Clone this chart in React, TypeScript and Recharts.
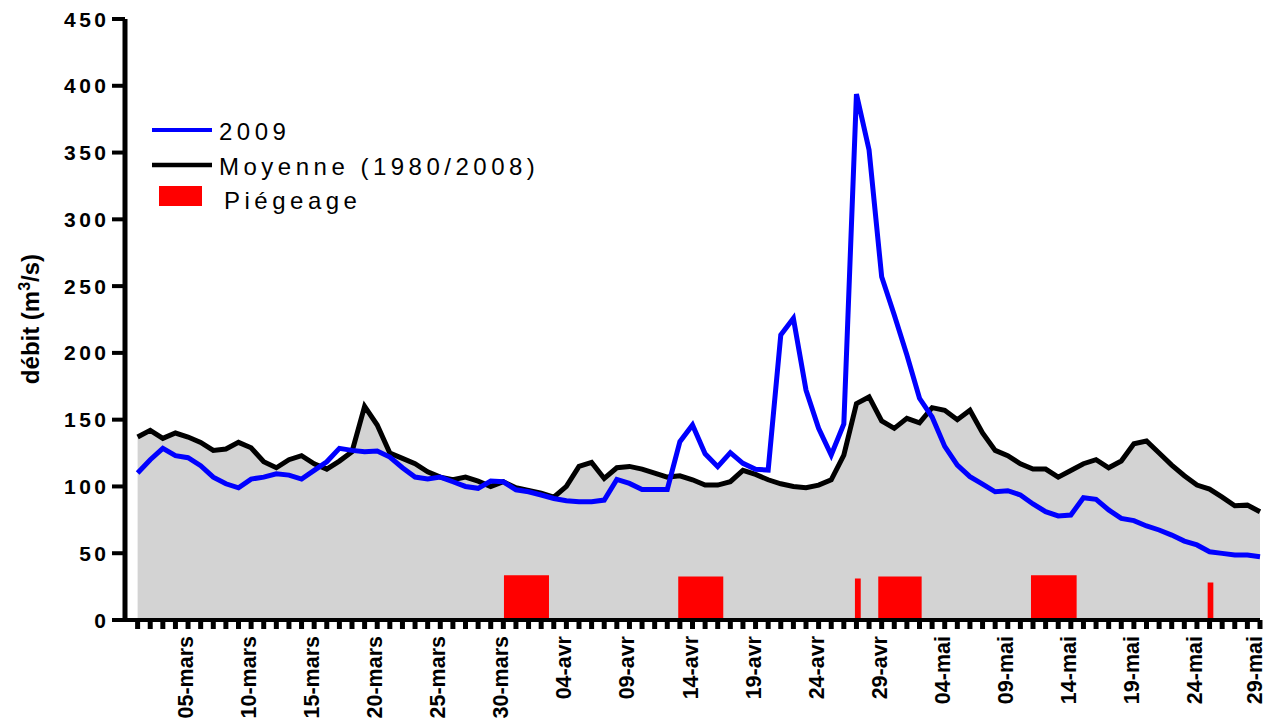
import React from 'react';
import { ComposedChart, Area, Line, XAxis, YAxis } from 'recharts';

// Daily discharge, 01-mars (index 0) to 29-mai (index 89)
const MOYENNE = [
  137, 142, 136, 140, 137, 133, 127, 128, 133, 129,
  118.5, 114, 120, 123, 117, 113, 119, 126, 160, 146,
  125, 121, 117, 111, 107, 105, 107, 104, 100, 103.5,
  99, 97, 95, 92, 100, 115, 118, 106, 114, 115,
  113, 110, 107, 108, 105, 101, 101, 103.6, 112, 109,
  105, 102, 100, 99, 101, 105, 123.5, 162, 167, 149,
  143.5, 151, 147.7, 159, 157, 150, 157, 140, 127, 123,
  117, 113, 113, 107, 112, 117, 120, 114, 119, 132,
  134, 125, 116, 108, 101, 98, 92, 85.5, 86, 81,
];

const Y2009 = [
  110, 120, 128.5, 123, 121.5, 115.5, 107, 102, 99, 105.5,
  107, 109.5, 108.5, 105.5, 112, 118.5, 128.5, 127, 126, 126.5,
  122, 114, 107, 105.6, 107, 103.5, 100, 98.6, 104, 103.5,
  97.5, 96, 93.6, 91, 89.3, 88.6, 88.6, 89.8, 105.3, 102.3,
  97.8, 97.8, 97.8, 133.5, 146, 124.5, 114.8, 125.3, 117.3, 112.8,
  112.3, 213.4, 225.9, 172.2, 143.5, 123.5, 146.8, 393.8, 352, 257,
  228.4, 198.4, 166, 152, 130, 116, 107.3, 101.8, 96, 96.8,
  93.6, 86.9, 81.1, 77.9, 78.6, 91.6, 90.4, 82.4, 76.1, 74.4,
  70.4, 67.4, 63.6, 59.1, 56.2, 51.1, 49.9, 48.7, 48.7, 47.4,
];

// Trapping periods (in day index units) and bar height
const TRAP_START = [29.05, 42.87, 56.88, 58.73, 70.84, 84.85];
const TRAP_END = [32.62, 46.44, 57.34, 62.17, 74.46, 85.3];
const TRAP_HEIGHT = [33.5, 32.5, 31, 32.5, 33.5, 28];

const TICK_DAYS = [4, 9, 14, 19, 24, 29, 34, 39, 44, 49, 54, 59, 64, 69, 74, 79, 84, 89];
const TICK_LABELS = [
  '05-mars', '10-mars', '15-mars', '20-mars', '25-mars', '30-mars',
  '04-avr', '09-avr', '14-avr', '19-avr', '24-avr', '29-avr',
  '04-mai', '09-mai', '14-mai', '19-mai', '24-mai', '29-mai',
];
const Y_TICKS = [0, 50, 100, 150, 200, 250, 300, 350, 400, 450];

const FONT = '"Liberation Sans", Arial, Helvetica, sans-serif';

type Row = { day: number; moy?: number; y2009?: number; trap?: number };

function buildData(): Row[] {
  const rows: Row[] = [];
  MOYENNE.forEach((m, i) => {
    const row: Row = { day: i, moy: m, y2009: Y2009[i] };
    TRAP_START.forEach((s, k) => {
      if (i >= s && i <= TRAP_END[k]) row.trap = TRAP_HEIGHT[k];
    });
    rows.push(row);
  });
  TRAP_START.forEach((s, k) => {
    rows.push({ day: s, trap: TRAP_HEIGHT[k] });
    rows.push({ day: TRAP_END[k], trap: TRAP_HEIGHT[k] });
  });
  rows.sort((a, b) => a.day - b.day);
  return rows;
}

const DATA = buildData();
const ALL_DAYS = MOYENNE.map((_, i) => i);

const XTick = (props: any) => {
  const { x, payload } = props;
  const idx = TICK_DAYS.indexOf(payload.value);
  if (idx < 0) return <g />;
  const tx = Math.min(x + 5, 1262);
  const ty = 636;
  return (
    <text
      x={tx}
      y={ty}
      transform={`rotate(-90, ${tx}, ${ty})`}
      textAnchor="end"
      fontFamily={FONT}
      fontWeight="bold"
      fontSize={21.5}
      fill="#000"
    >
      {TICK_LABELS[idx]}
    </text>
  );
};

const YTick = (props: any) => {
  const { y, payload } = props;
  return (
    <text
      x={109.5}
      y={y}
      dy="0.36em"
      textAnchor="end"
      fontFamily={FONT}
      fontWeight="bold"
      fontSize={21}
      letterSpacing={3.5}
      fill="#000"
    >
      {payload.value}
    </text>
  );
};

export default function App() {
  return (
    <div style={{ position: 'absolute', left: 0, top: 0, width: 1268, height: 720, background: '#fff' }}>
      <ComposedChart
        width={1268}
        height={720}
        data={DATA}
        margin={{ top: 19, right: 8, bottom: 0, left: 0 }}
      >
        <XAxis
          dataKey="day"
          type="number"
          domain={[-1, 89]}
          ticks={ALL_DAYS}
          interval={0}
          height={100}
          tick={<XTick />}
          tickSize={9}
          tickLine={{ stroke: '#000', strokeWidth: 5 }}
          axisLine={{ stroke: '#000', strokeWidth: 4 }}
        />
        <YAxis
          type="number"
          domain={[0, 450]}
          ticks={Y_TICKS}
          interval={0}
          width={125}
          tick={<YTick />}
          tickSize={13}
          tickLine={{ stroke: '#000', strokeWidth: 4 }}
          axisLine={{ stroke: '#000', strokeWidth: 5 }}
        />
        <Area
          type="linear"
          dataKey="moy"
          stroke="#000"
          strokeWidth={5}
          fill="#d3d3d3"
          fillOpacity={1}
          connectNulls
          dot={false}
          activeDot={false}
          isAnimationActive={false}
        />
        <Area
          type="linear"
          dataKey="trap"
          stroke="none"
          fill="#ff0000"
          fillOpacity={1}
          dot={false}
          activeDot={false}
          isAnimationActive={false}
        />
        <Line
          type="linear"
          dataKey="y2009"
          stroke="#0000ff"
          strokeWidth={5}
          connectNulls
          dot={false}
          activeDot={false}
          isAnimationActive={false}
        />
      </ComposedChart>
      <svg
        width={1268}
        height={720}
        style={{ position: 'absolute', left: 0, top: 0, pointerEvents: 'none' }}
      >
        <text
          transform="translate(39,319) rotate(-90)"
          textAnchor="middle"
          fontFamily={FONT}
          fontWeight="bold"
          fontSize={24}
          fill="#000"
        >
          débit (m
          <tspan dy={-9} fontSize={16}>3</tspan>
          <tspan dy={9}>/s)</tspan>
        </text>
        <line x1={152} y1={130} x2={212} y2={130} stroke="#0000ff" strokeWidth={4} />
        <text x={219} y={140} fontFamily={FONT} fontSize={24} letterSpacing={4.5} fill="#000">2009</text>
        <line x1={152} y1={165} x2={212} y2={165} stroke="#000" strokeWidth={4.5} />
        <text x={219} y={175} fontFamily={FONT} fontSize={24} letterSpacing={4.5} fill="#000">Moyenne (1980/2008)</text>
        <rect x={159} y={186} width={43} height={20} fill="#ff0000" />
        <text x={224} y={209} fontFamily={FONT} fontSize={24} letterSpacing={4.5} fill="#000">Piégeage</text>
      </svg>
    </div>
  );
}
